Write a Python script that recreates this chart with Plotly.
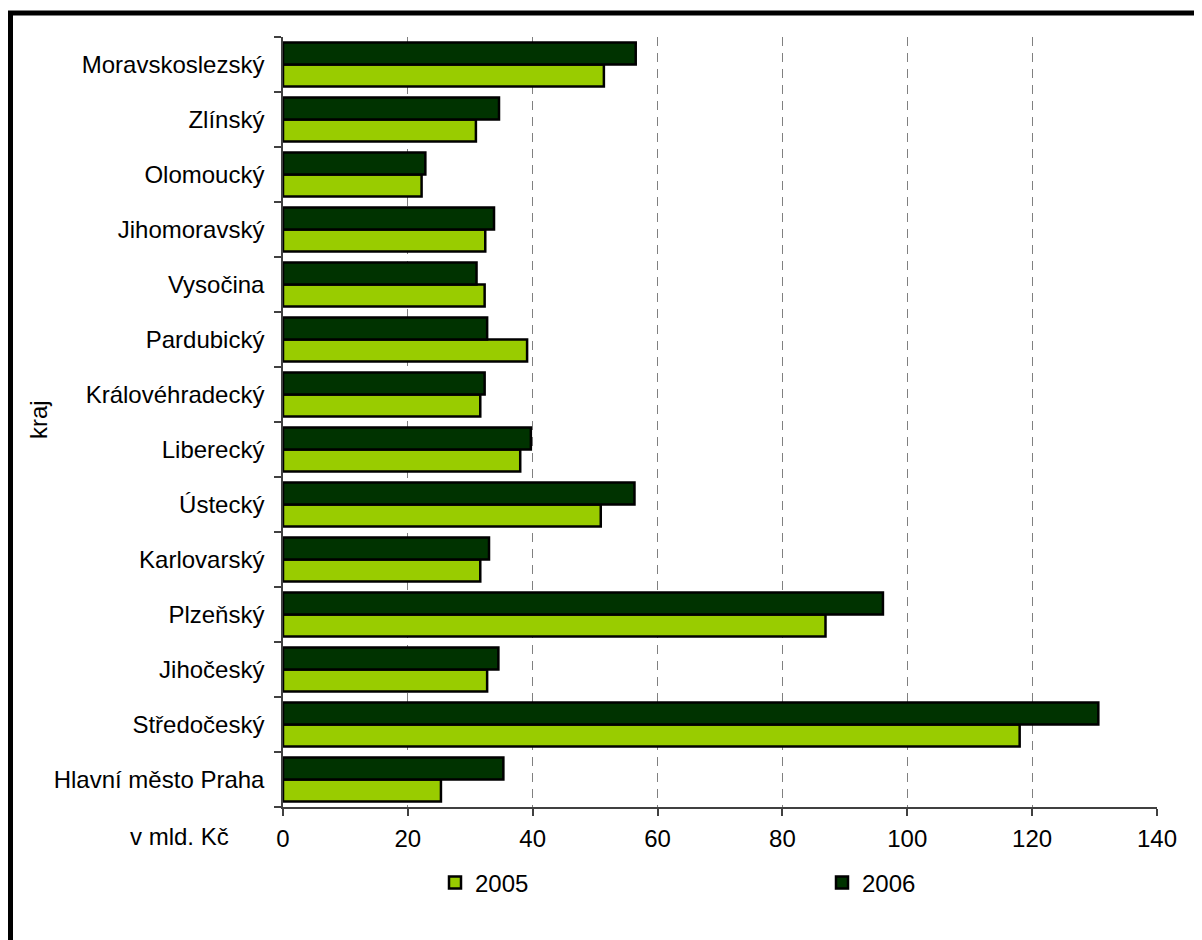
import plotly.graph_objects as go

regions = ["Hlavní město Praha", "Středočeský", "Jihočeský", "Plzeňský", "Karlovarský",
           "Ústecký", "Liberecký", "Královéhradecký", "Pardubický", "Vysočina",
           "Jihomoravský", "Olomoucký", "Zlínský", "Moravskoslezský"]
values_2005 = [25.3, 118.0, 32.7, 86.9, 31.6, 50.9, 38.0, 31.6, 39.1, 32.3, 32.4, 22.2, 30.9, 51.4]
values_2006 = [35.3, 130.6, 34.5, 96.1, 33.0, 56.3, 39.7, 32.3, 32.7, 31.0, 33.8, 22.8, 34.6, 56.5]
x_ticks = [0, 20, 40, 60, 80, 100, 120, 140]

FONT = "Liberation Sans, Arial, sans-serif"
FS = 24

# page has an 8px body margin: work in page coordinates, convert to figure coords
OFF = 8
W, H = 1194, 932
L, T = 283 - OFF, 37 - OFF
pw, ph = 874, 770
R = W - L - pw
B = H - T - ph

def px(x):
    return (x - OFF - L) / pw

def py(y):
    return (H - B - (y - OFF)) / ph

fig = go.Figure()
fig.add_trace(go.Bar(y=regions, x=values_2005, orientation="h", name="2005", legend="legend",
                     marker=dict(color="#99CC00", line=dict(color="#000000", width=2.5))))
fig.add_trace(go.Bar(y=regions, x=values_2006, orientation="h", name="2006", legend="legend2",
                     marker=dict(color="#003300", line=dict(color="#000000", width=2.5))))

legend_common = dict(orientation="h", xanchor="left", yanchor="middle",
                     bgcolor="rgba(0,0,0,0)", borderwidth=0,
                     font=dict(family=FONT, size=FS, color="black"))

fig.update_layout(
    width=W, height=H,
    margin=dict(l=L, r=R, t=T, b=B),
    paper_bgcolor="white", plot_bgcolor="white",
    barmode="group", bargap=0.2, bargroupgap=0,
    font=dict(family=FONT, size=FS, color="black"),
    showlegend=True,
    legend=dict(x=px(435), y=py(883), **legend_common),
    legend2=dict(x=px(822), y=py(883), **legend_common),
    xaxis=dict(range=[0, 140], tickvals=x_ticks, showgrid=True, gridcolor="#808080",
               griddash="9px,7px", gridwidth=1, zeroline=False, showline=True,
               linecolor="#404040", linewidth=1.5, ticks="outside", ticklen=7,
               tickcolor="#404040", tickwidth=1.5, ticklabelstandoff=2,
               tickfont=dict(family=FONT, size=FS, color="black")),
    yaxis=dict(type="category", categoryorder="array", categoryarray=regions,
               showgrid=False, zeroline=False, showline=True, linecolor="#404040",
               linewidth=1.5, ticks="outside", ticklen=7, tickcolor="#404040",
               tickwidth=1.5, tickson="boundaries", ticklabelstandoff=12,
               tickfont=dict(family=FONT, size=FS, color="black")),
    shapes=[dict(type="rect", xref="paper", yref="paper",
                 x0=px(10.5), x1=px(1225), y0=py(960), y1=py(13),
                 line=dict(color="black", width=5), fillcolor="rgba(0,0,0,0)", layer="above")],
    annotations=[
        dict(text="kraj", xref="paper", yref="paper", x=px(38), y=py(420),
             textangle=-90, showarrow=False, xanchor="center", yanchor="middle",
             font=dict(family=FONT, size=FS, color="black")),
        dict(text="v mld. Kč", xref="paper", yref="paper", x=px(179), y=py(837),
             showarrow=False, xanchor="center", yanchor="middle",
             font=dict(family=FONT, size=FS, color="black")),
    ],
)

fig.write_html("out.html")
